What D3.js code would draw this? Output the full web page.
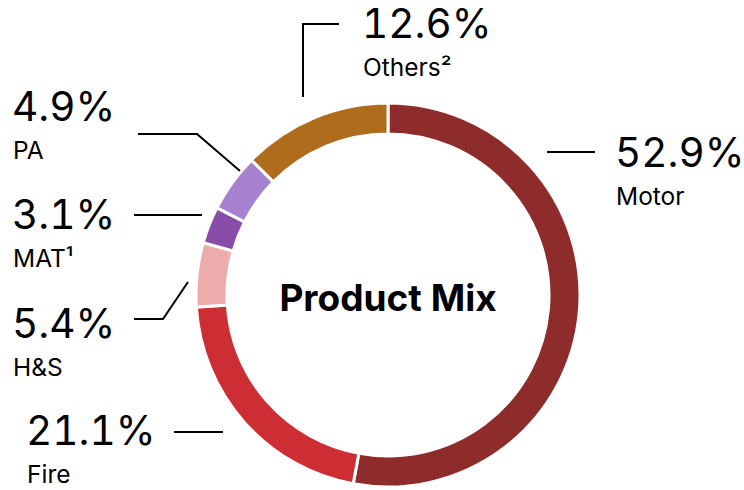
<!DOCTYPE html>
<html>
<head>
<meta charset="utf-8">
<script src="https://cdn.jsdelivr.net/npm/d3@7"></script>
<style>
  body { margin: 0; background: #fff; }
  svg { display: block; font-family: Inter, "Noto Sans", sans-serif; }
  .pct { font-variant-numeric: tabular-nums; font-feature-settings: "tnum" 1; }
</style>
</head>
<body>
<svg id="chart" width="744" height="490"></svg>
<script>
// Product mix shares (%)
const categories = ["Motor", "Fire", "H&S", "MAT", "PA", "Others"];
const values = [52.9, 21.1, 5.4, 3.1, 4.9, 12.6];
const footnotes = ["", "", "", "\u00B9", "", "\u00B2"];
const colors = ["#8E2B2B", "#CD2E34", "#EDABAB", "#874DA8", "#A780CF", "#AE6C1C"];

// label placement: text anchor point + leader polyline
const labelLayout = [
  { x: 615, y: 167, line: [[547, 152], [595, 152]] },
  { x: 26,  y: 445, line: [[174, 432], [223, 432]] },
  { x: 12,  y: 338, line: [[134, 319], [163, 319], [188, 282]] },
  { x: 12,  y: 229, line: [[134, 215], [202, 215]] },
  { x: 12,  y: 121, line: [[138, 134], [197, 134], [240, 171]] },
  { x: 362, y: 38,  line: [[339, 24], [303, 24], [303, 97]] }
];

const svg = d3.select("#chart");
const cx = 388, cy = 295, outerR = 192, innerR = 161;

const pie = d3.pie().sort(null).value(d => d);
const arc = d3.arc().innerRadius(innerR).outerRadius(outerR);

const g = svg.append("g").attr("transform", `translate(${cx},${cy})`);

g.selectAll("path")
  .data(pie(values))
  .enter().append("path")
  .attr("d", arc)
  .attr("fill", (d, i) => colors[i])
  .attr("stroke", "#fff")
  .attr("stroke-width", 3);

g.append("text")
  .attr("text-anchor", "middle")
  .attr("y", 16)
  .attr("font-size", 37)
  .attr("font-weight", 700)
  .attr("fill", "#000")
  .text("Product Mix");

const line = d3.line();

categories.forEach((c, i) => {
  const lay = labelLayout[i];
  svg.append("path")
    .attr("d", line(lay.line))
    .attr("fill", "none")
    .attr("stroke", "#000")
    .attr("stroke-width", 2);

  svg.append("text")
    .attr("class", "pct")
    .attr("x", lay.x)
    .attr("y", lay.y)
    .attr("font-size", 40.5)
    .attr("fill", "#000")
    .text(values[i].toFixed(1) + "%");

  svg.append("text")
    .attr("x", lay.x + 1)
    .attr("y", lay.y + 38)
    .attr("font-size", 24.5)
    .attr("fill", "#000")
    .text(c + footnotes[i]);
});
</script>
</body>
</html>
